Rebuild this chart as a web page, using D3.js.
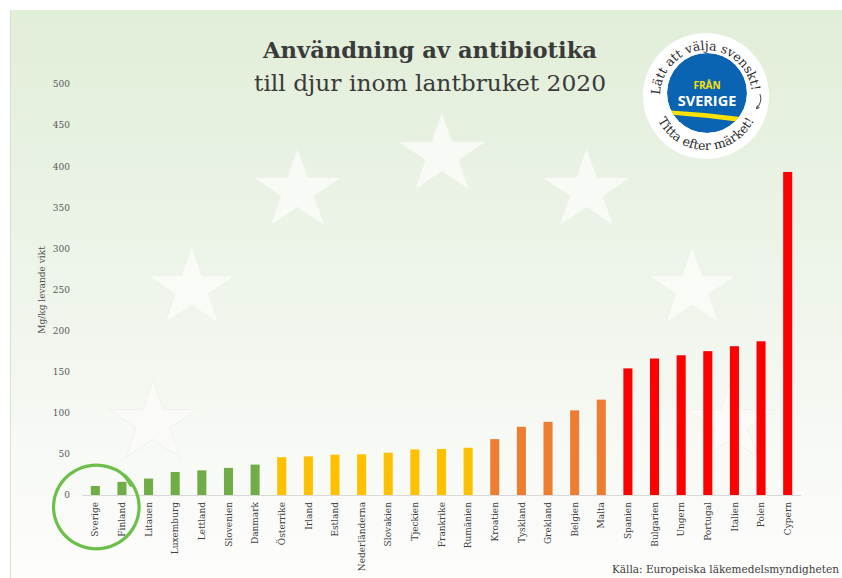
<!DOCTYPE html>
<html>
<head>
<meta charset="utf-8">
<script src="https://cdn.jsdelivr.net/npm/d3@7"></script>
<style>
  body { margin: 0; background: #fff; }
  svg { display: block; }
</style>
</head>
<body>
<div id="chart"></div>
<script>
// data (mg/kg levande vikt, 2020)
const countries = ["Sverige", "Finland", "Litauen", "Luxemburg", "Lettland", "Slovenien", "Danmark",
    "Österrike", "Irland", "Estland", "Nederländerna", "Slovakien", "Tjeckien", "Frankrike", "Rumänien",
    "Kroatien", "Tyskland", "Grekland", "Belgien", "Malta",
    "Spanien", "Bulgarien", "Ungern", "Portugal", "Italien", "Polen", "Cypern"];
const values = [11, 16, 20, 28, 30, 33, 37,
    46, 47, 49, 49.5, 51.5, 55.5, 56, 57.5,
    68, 83, 89, 103, 116,
    154, 166, 170, 175, 181, 187, 393];
const tiers = ["låg", "låg", "låg", "låg", "låg", "låg", "låg",
    "medel", "medel", "medel", "medel", "medel", "medel", "medel", "medel",
    "hög", "hög", "hög", "hög", "hög",
    "mycket hög", "mycket hög", "mycket hög", "mycket hög", "mycket hög", "mycket hög", "mycket hög"];
const tierNames = ["låg", "medel", "hög", "mycket hög"];
const tierColors = ["#70ad47", "#ffc000", "#ed7d31", "#ff0000"];
const yTicks = [0, 50, 100, 150, 200, 250, 300, 350, 400, 450, 500];

const rows = countries.map((c, i) => ({ country: c, value: values[i], tier: tiers[i] }));

const width = 842;
const height = 578;
const serif = "'DejaVu Serif', serif";

const svg = d3.select('#chart')
    .append('svg')
    .attr('width', width)
    .attr('height', height);

const defs = svg.append('defs');

// background panel
const grad = defs.append('linearGradient')
    .attr('id', 'bg')
    .attr('x1', 0).attr('y1', 0).attr('x2', 0).attr('y2', 1);
grad.append('stop').attr('offset', '0%').attr('stop-color', '#e1eed8');
grad.append('stop').attr('offset', '45%').attr('stop-color', '#edf4e9');
grad.append('stop').attr('offset', '80%').attr('stop-color', '#f8faf6');
grad.append('stop').attr('offset', '100%').attr('stop-color', '#fdfdfc');

svg.append('rect')
    .attr('x', 10).attr('y', 10)
    .attr('width', width - 10).attr('height', height - 10)
    .attr('fill', 'url(#bg)');
svg.append('line')
    .attr('x1', 10.5).attr('x2', 10.5).attr('y1', 10).attr('y2', height)
    .attr('stroke', '#d6e3ce');

// EU stars in the background (only the upper half of the ring shows)
const starPath = (r) => {
    const pts = [];
    for (let k = 0; k < 10; k++) {
        const a = -Math.PI / 2 + k * Math.PI / 5;
        const rr = k % 2 === 0 ? r : r * 0.382;
        pts.push([rr * Math.cos(a), rr * Math.sin(a)]);
    }
    return d3.line()(pts) + 'Z';
};
const euCx = 442, euCy = 423, euRx = 289, euRy = 268;
const starAngles = [-90, -60, -30, 0, 30, 60, 90];
svg.append('g')
    .attr('class', 'stars')
    .selectAll('path')
    .data(starAngles)
    .join('path')
    .attr('d', starPath(46))
    .attr('transform', a => {
        const t = a * Math.PI / 180;
        return `translate(${euCx + euRx * Math.sin(t)}, ${euCy - euRy * Math.cos(t)}) scale(1, 0.93)`;
    })
    .attr('fill', '#fafcf8')
    .attr('fill-opacity', 0.85)
    .attr('stroke', '#eef3ea')
    .attr('stroke-width', 1);

// scales
const xScale = d3.scaleBand()
    .domain(countries)
    .range([82, 801])
    .paddingInner(0.66)
    .paddingOuter(0.33);

const yScale = d3.scaleLinear()
    .domain([0, 500])
    .range([495, 84]);

const color = d3.scaleOrdinal().domain(tierNames).range(tierColors);

// y axis
const yAxis = svg.append('g')
    .attr('transform', 'translate(70, 0)')
    .call(d3.axisLeft(yScale).tickValues(yTicks).tickSize(0).tickPadding(0));
yAxis.select('.domain').remove();
yAxis.selectAll('text')
    .attr('font-family', serif)
    .attr('font-size', 9)
    .attr('fill', '#595959');

svg.append('text')
    .attr('transform', 'translate(45, 290) rotate(-90)')
    .attr('text-anchor', 'middle')
    .attr('font-family', serif)
    .attr('font-size', 9)
    .attr('fill', '#505050')
    .text('Mg/kg levande vikt');

// baseline
svg.append('line')
    .attr('x1', 82).attr('x2', 801)
    .attr('y1', yScale(0) + 0.5).attr('y2', yScale(0) + 0.5)
    .attr('stroke', '#d9d9d9');

// bars
svg.append('g')
    .attr('class', 'bars')
    .selectAll('rect')
    .data(rows)
    .join('rect')
    .attr('x', d => xScale(d.country))
    .attr('y', d => yScale(d.value))
    .attr('width', xScale.bandwidth())
    .attr('height', d => yScale(0) - yScale(d.value))
    .attr('fill', d => color(d.tier));

// country labels
svg.append('g')
    .attr('class', 'country-labels')
    .selectAll('text')
    .data(rows)
    .join('text')
    .attr('transform', d => `translate(${xScale(d.country) + xScale.bandwidth() / 2}, 502) rotate(-90)`)
    .attr('text-anchor', 'end')
    .attr('dy', '0.35em')
    .attr('font-family', serif)
    .attr('font-size', 9)
    .attr('fill', '#404040')
    .text(d => d.country);

// hand drawn ring round Sverige & Finland
const ringCx = xScale('Sverige') + xScale.bandwidth() / 2 + 1;
const ringPts = d3.range(0, 381, 10).map(deg => {
    const t = (deg - 50) * Math.PI / 180;
    const grow = deg > 340 ? (deg - 340) * 0.08 : 0;
    return [ringCx + (43 - grow) * Math.cos(t), 507 + (42 + grow * 0.5) * Math.sin(t)];
});
svg.append('path')
    .attr('d', d3.line().curve(d3.curveBasis)(ringPts))
    .attr('fill', 'none')
    .attr('stroke', '#6cc04a')
    .attr('stroke-width', 3.2)
    .attr('stroke-linecap', 'round');

// title
svg.append('text')
    .attr('x', 430).attr('y', 58)
    .attr('text-anchor', 'middle')
    .attr('font-family', serif)
    .attr('font-size', 23)
    .attr('font-weight', 700)
    .attr('fill', '#3a3a3a')
    .attr('textLength', 334)
    .attr('lengthAdjust', 'spacingAndGlyphs')
    .text('Användning av antibiotika');

svg.append('text')
    .attr('x', 430).attr('y', 91)
    .attr('text-anchor', 'middle')
    .attr('font-family', serif)
    .attr('font-size', 23)
    .attr('fill', '#3a3a3a')
    .attr('textLength', 352)
    .attr('lengthAdjust', 'spacingAndGlyphs')
    .text('till djur inom lantbruket 2020');

// source
svg.append('text')
    .attr('x', 839).attr('y', 573)
    .attr('text-anchor', 'end')
    .attr('font-family', serif)
    .attr('font-size', 10.5)
    .attr('fill', '#404040')
    .text('Källa: Europeiska läkemedelsmyndigheten');

// "Från Sverige" badge
const lx = 706, ly = 96;
const logo = svg.append('g').attr('class', 'logo');
logo.append('circle')
    .attr('cx', lx).attr('cy', ly).attr('r', 63)
    .attr('fill', '#ffffff');

defs.append('clipPath').attr('id', 'blueClip')
    .append('circle').attr('cx', lx + 1).attr('cy', ly - 3).attr('r', 40);

const blue = logo.append('g').attr('clip-path', 'url(#blueClip)');
blue.append('circle')
    .attr('cx', lx + 1).attr('cy', ly - 3).attr('r', 40)
    .attr('fill', '#0b64b1');
blue.append('path')
    .attr('d', `M${lx - 42},${ly + 14} Q${lx},${ly + 16} ${lx + 42},${ly + 22} L${lx + 42},${ly + 27} Q${lx},${ly + 21} ${lx - 42},${ly + 18} Z`)
    .attr('fill', '#ffe100');

logo.append('text')
    .attr('x', lx + 1).attr('y', ly - 7)
    .attr('text-anchor', 'middle')
    .attr('font-family', "'Open Sans', sans-serif")
    .attr('font-weight', 700)
    .attr('font-size', 10)
    .attr('fill', '#ffe100')
    .text('FRÅN');
logo.append('text')
    .attr('x', lx + 1).attr('y', ly + 10)
    .attr('text-anchor', 'middle')
    .attr('font-family', "'Open Sans', sans-serif")
    .attr('font-weight', 700)
    .attr('font-size', 14.5)
    .attr('fill', '#ffffff')
    .text('SVERIGE');

const arcPt = (r, deg) => {
    const t = deg * Math.PI / 180;
    return [lx + r * Math.sin(t), ly - r * Math.cos(t)];
};
const topR = 46, botR = 54;
const t0 = arcPt(topR, -125), t1 = arcPt(topR, 125);
defs.append('path').attr('id', 'topArc')
    .attr('d', `M${t0[0]},${t0[1]} A${topR},${topR} 0 1 1 ${t1[0]},${t1[1]}`);
const b0 = arcPt(botR, -70), b1 = arcPt(botR, 70);
defs.append('path').attr('id', 'botArc')
    .attr('d', `M${b0[0]},${b0[1]} A${botR},${botR} 0 1 0 ${b1[0]},${b1[1]}`);

logo.append('text')
    .attr('font-family', serif)
    .attr('font-size', 12.5)
    .attr('fill', '#2b2b2b')
    .append('textPath')
    .attr('href', '#topArc')
    .attr('startOffset', '49%')
    .attr('text-anchor', 'middle')
    .text('Lätt att välja svenskt!');

logo.append('text')
    .attr('font-family', serif)
    .attr('font-size', 12.5)
    .attr('fill', '#2b2b2b')
    .append('textPath')
    .attr('href', '#botArc')
    .attr('startOffset', '50%')
    .attr('text-anchor', 'middle')
    .text('Titta efter märket!');

// small arrow on the right of the badge
const a0 = arcPt(52, 88), a1 = arcPt(52, 104);
logo.append('path')
    .attr('d', `M${a0[0] + 2},${a0[1]} Q${a0[0] + 5},${(a0[1] + a1[1]) / 2} ${a1[0]},${a1[1]}`)
    .attr('fill', 'none')
    .attr('stroke', '#2b2b2b')
    .attr('stroke-width', 0.9);
logo.append('path')
    .attr('d', `M${a1[0] + 3},${a1[1] - 1} L${a1[0]},${a1[1]} L${a1[0] + 1},${a1[1] - 3}`)
    .attr('fill', 'none')
    .attr('stroke', '#2b2b2b')
    .attr('stroke-width', 0.9);
</script>
</body>
</html>
